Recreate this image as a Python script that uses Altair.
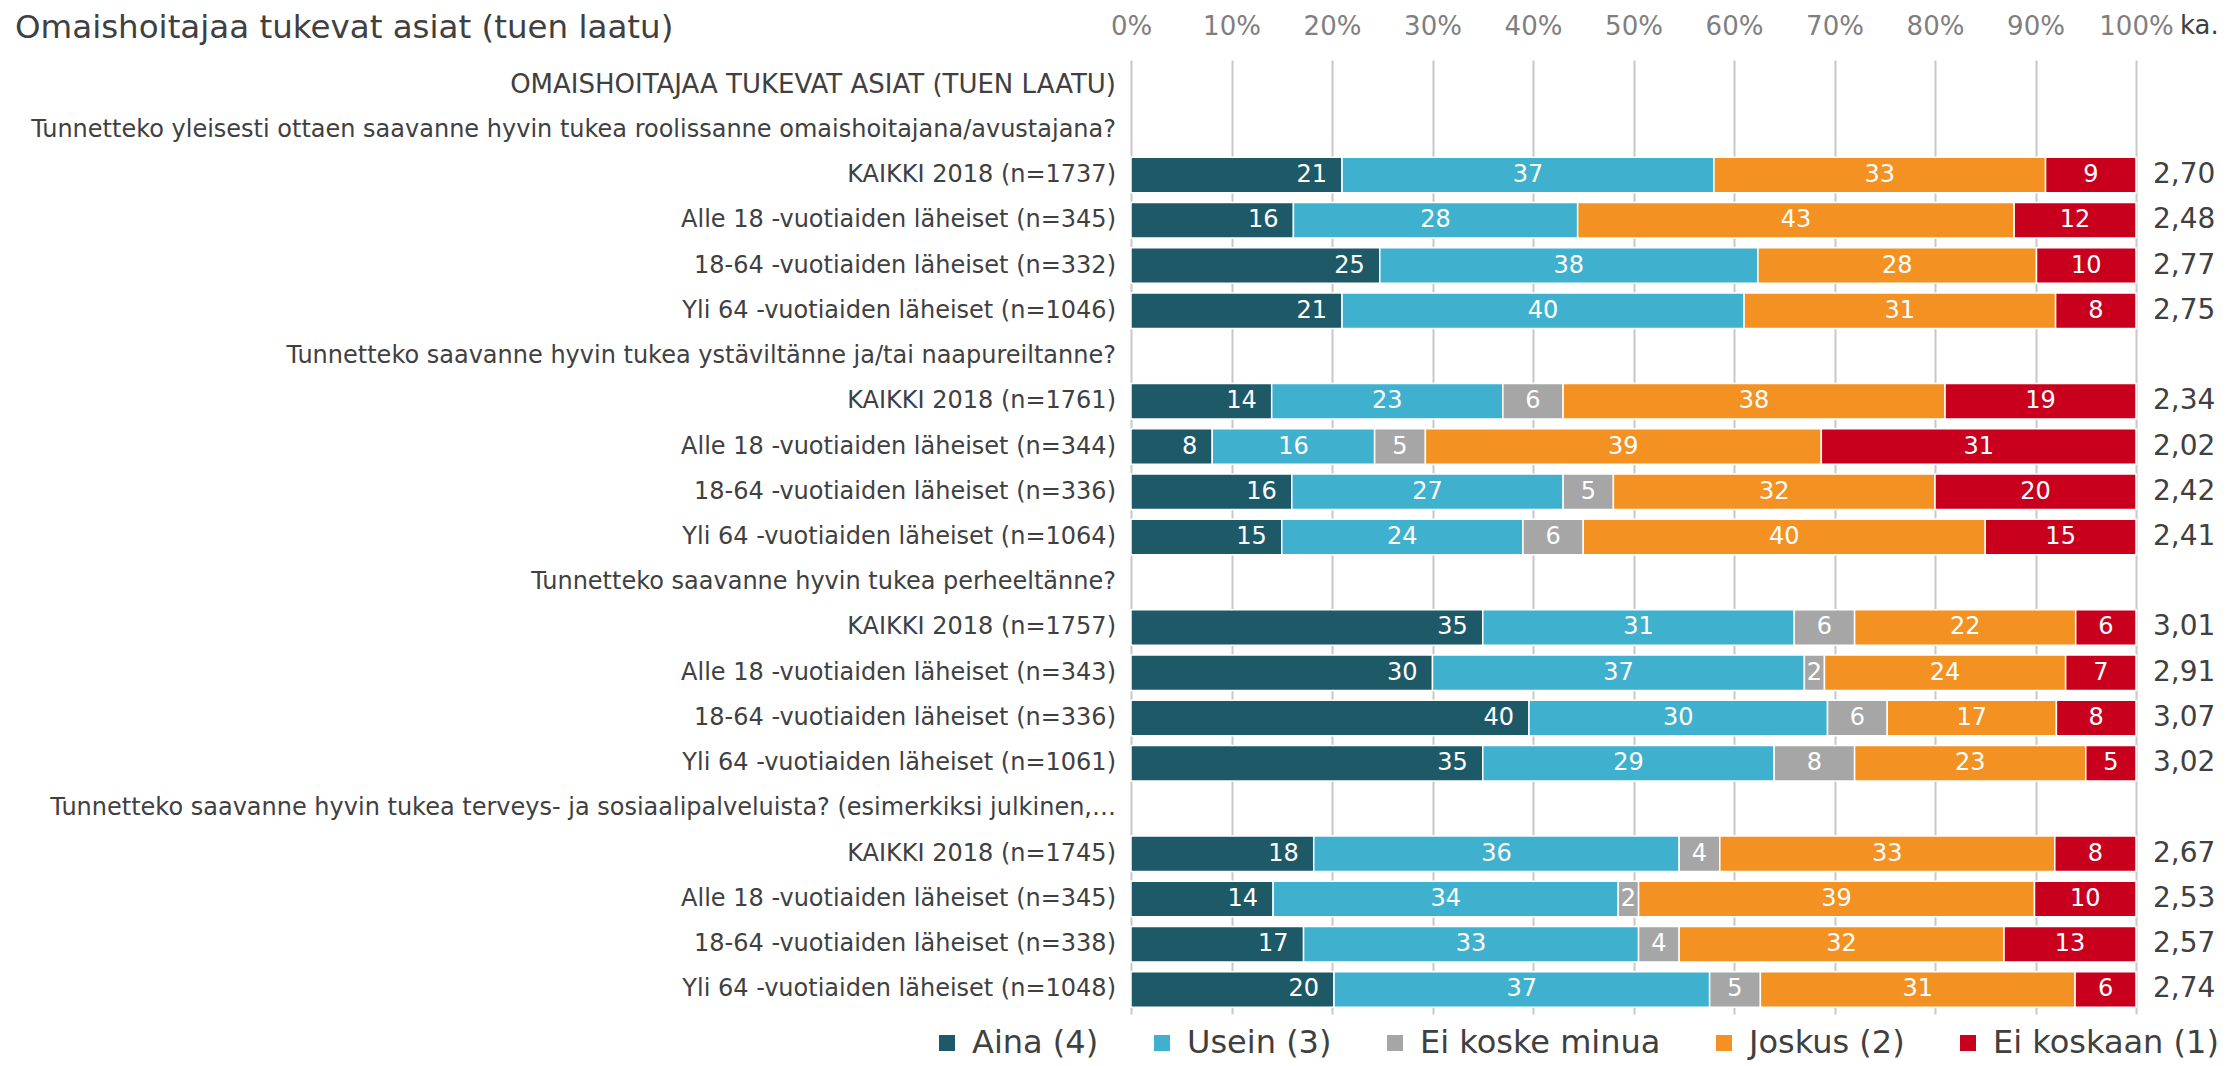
import altair as alt
import pandas as pd

FONT = "DejaVu Sans"

title_text = "Omaishoitajaa tukevat asiat (tuen laatu)"
header = "OMAISHOITAJAA TUKEVAT ASIAT (TUEN LAATU)"
questions = [
    "Tunnetteko yleisesti ottaen saavanne hyvin tukea roolissanne omaishoitajana/avustajana?",
    "Tunnetteko saavanne hyvin tukea ystäviltänne ja/tai naapureiltanne?",
    "Tunnetteko saavanne hyvin tukea perheeltänne?",
    "Tunnetteko saavanne hyvin tukea terveys- ja sosiaalipalveluista? (esimerkiksi julkinen,…",
]
groups = [
    "KAIKKI 2018",
    "Alle 18 -vuotiaiden läheiset",
    "18-64 -vuotiaiden läheiset",
    "Yli 64 -vuotiaiden läheiset",
]
n_values = [
    [1737, 345, 332, 1046],
    [1761, 344, 336, 1064],
    [1757, 343, 336, 1061],
    [1745, 345, 338, 1048],
]
categories = ["Aina (4)", "Usein (3)", "Ei koske minua", "Joskus (2)", "Ei koskaan (1)"]
colors = ["#1E5968", "#3FB1CF", "#A6A6A6", "#F39222", "#C8001E"]

aina = [[21, 16, 25, 21], [14, 8, 16, 15], [35, 30, 40, 35], [18, 14, 17, 20]]
usein = [[37, 28, 38, 40], [23, 16, 27, 24], [31, 37, 30, 29], [36, 34, 33, 37]]
ei_koske = [[0, 0, 0, 0], [6, 5, 5, 6], [6, 2, 6, 8], [4, 2, 4, 5]]
joskus = [[33, 43, 28, 31], [38, 39, 32, 40], [22, 24, 17, 23], [33, 39, 32, 31]]
ei_koskaan = [[9, 12, 10, 8], [19, 31, 20, 15], [6, 7, 8, 5], [8, 10, 13, 6]]
means = [
    ["2,70", "2,48", "2,77", "2,75"],
    ["2,34", "2,02", "2,42", "2,41"],
    ["3,01", "2,91", "3,07", "3,02"],
    ["2,67", "2,53", "2,57", "2,74"],
]
tick_values = [0, 0.1, 0.2, 0.3, 0.4, 0.5, 0.6, 0.7, 0.8, 0.9, 1.0]


def key(i):
    return f"r{i:02d}"


label_rows = [dict(row=key(0), label=header, mean=None, kind="header")]
bar_rows = []
idx = 0
series = [aina, usein, ei_koske, joskus, ei_koskaan]
for qi, q in enumerate(questions):
    idx += 1
    label_rows.append(dict(row=key(idx), label=q, mean=None, kind="question"))
    for gi, g in enumerate(groups):
        idx += 1
        k = key(idx)
        label_rows.append(dict(row=k, label=f"{g} (n={n_values[qi][gi]})", mean=means[qi][gi], kind="group"))
        for ci, cat in enumerate(categories):
            bar_rows.append(dict(row=k, cat=cat, ci=ci, value=series[ci][qi][gi]))

labels_df = pd.DataFrame(label_rows)
bars_df = pd.DataFrame(bar_rows)
row_domain = [key(i) for i in range(idx + 1)]

W, H = 1005, 954

yenc = alt.Y("row:N", scale=alt.Scale(domain=row_domain, paddingInner=0.215, paddingOuter=0.15), axis=None)
xaxis = alt.Axis(
    orient="top", values=tick_values, format=".0%", grid=True, gridColor="#c8c8c8",
    gridWidth=2, domain=False, ticks=False, tickSize=0, labelFontSize=26, labelColor="#7f7f7f",
    labelFont=FONT, labelPadding=34, labelBaseline="middle", labelOverlap=False,
    labelFlush=False, title=None,
)
xscale = alt.Scale(domain=[0, 1])

stacked = alt.Chart(bars_df).transform_filter("datum.value > 0").transform_stack(
    stack="value", groupby=["row"], as_=["x0", "x1"], offset="normalize",
    sort=[alt.SortField("ci", order="ascending")],
)

bars = stacked.mark_bar(stroke="white", strokeWidth=1.5).encode(
    x=alt.X("x0:Q", scale=xscale, axis=xaxis),
    x2="x1:Q",
    y=yenc,
    color=alt.Color(
        "cat:N",
        scale=alt.Scale(domain=categories, range=colors),
        legend=alt.Legend(
            orient="none", legendX=-200, legendY=967, direction="horizontal", columns=5,
            title=None, symbolType="square", symbolSize=256, symbolStrokeWidth=0,
            labelFontSize=32, labelFont=FONT, labelColor="#404040", labelLimit=0,
            columnPadding=47, labelOffset=9, padding=0,
        ),
    ),
)

aina_lab = stacked.transform_filter("datum.ci == 0").mark_text(
    align="right", baseline="middle", dx=-15, color="white", fontSize=24, font=FONT
).encode(x=alt.X("x1:Q", scale=xscale, axis=xaxis), y=yenc, text="value:Q")

other_lab = stacked.transform_filter("datum.ci > 0").transform_calculate(
    mid="(datum.x0 + datum.x1) / 2"
).mark_text(
    align="center", baseline="middle", color="white", fontSize=24, font=FONT
).encode(x=alt.X("mid:Q", scale=xscale, axis=xaxis), y=yenc, text="value:Q")

row_labels = alt.Chart(labels_df).transform_filter("datum.kind != 'header'").mark_text(
    align="right", baseline="middle", fontSize=24, font=FONT, color="#404040"
).encode(y=yenc, x=alt.value(-15), text="label:N")

header_label = alt.Chart(labels_df).transform_filter("datum.kind == 'header'").mark_text(
    align="right", baseline="middle", fontSize=26, font=FONT, color="#404040"
).encode(y=yenc, x=alt.value(-15), text="label:N")

mean_labels = alt.Chart(labels_df).transform_filter("datum.mean != null").mark_text(
    align="left", baseline="middle", fontSize=28, font=FONT, color="#404040"
).encode(y=yenc, x=alt.value(1022), text="mean:N")

title_mark = alt.Chart(pd.DataFrame({"t": [title_text]})).mark_text(
    align="left", baseline="middle", fontSize=32.5, font=FONT, color="#404040"
).encode(x=alt.value(-1116), y=alt.value(-32), text="t:N")

ka_mark = alt.Chart(pd.DataFrame({"t": ["ka."]})).mark_text(
    align="left", baseline="middle", fontSize=26, font=FONT, color="#404040"
).encode(x=alt.value(1049), y=alt.value(-34), text="t:N")

chart = alt.layer(
    bars, aina_lab, other_lab, row_labels, header_label, mean_labels, title_mark, ka_mark
).properties(
    width=W, height=H,
    autosize=alt.AutoSizeParams(type="none"),
    padding={"left": 1123, "top": 52, "right": 94, "bottom": 56},
).configure_view(strokeWidth=0)

chart.save("out.html", embed_options={"renderer": "svg", "actions": False})
